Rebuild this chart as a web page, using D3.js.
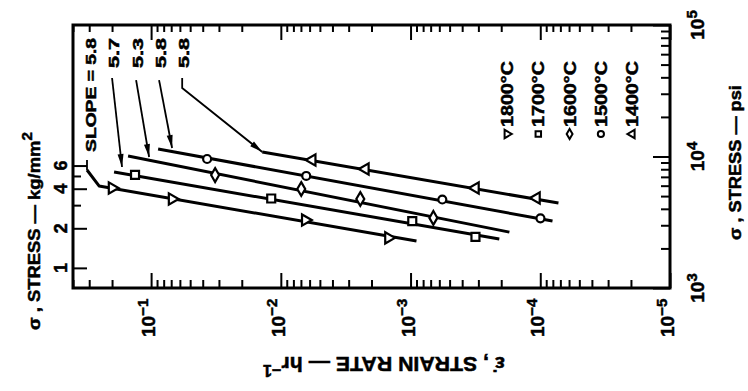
<!DOCTYPE html>
<html>
<head>
<meta charset="utf-8">
<script src="https://cdn.jsdelivr.net/npm/d3@7"></script>
<style>
  body { margin: 0; background: #fff; }
  svg { display: block; }
  text { font-family: "Liberation Sans", Arial, sans-serif; font-weight: bold; fill: #000;
         stroke: #000; stroke-width: 0.5px; }
</style>
</head>
<body>
<script>
// Creep data: steady-state strain rate (hr^-1) against stress (kg/mm^2)
const temperatures = ["1800°C", "1700°C", "1600°C", "1500°C", "1400°C"];
const symbolKinds  = ["triRight", "square", "diamond", "circle", "triLeft"];
const slopeLabels  = ["SLOPE = 5.8", "5.7", "5.3", "5.8", "5.8"];

// fitted lines [strain rate, stress]
const line1800 = [[0.312, 5.55], [0.252, 4.20], [9.0e-4, 1.60]];
const line1700 = [[0.193, 5.36], [2.07e-4, 1.66]];
const line1600 = [[0.1505, 7.09], [1.73e-4, 1.87]];
const line1500 = [[0.0883, 8.02], [8.05e-5, 2.27]];
const line1400 = [[0.0139, 7.61], [7.24e-5, 3.11]];

// measured points [strain rate, stress]
const pts1800 = [[0.200, 4.05], [0.0689, 3.34], [0.00648, 2.31], [0.00148, 1.69]];
const pts1700 = [[0.133, 5.10], [0.01186, 3.37], [9.7e-4, 2.27], [3.16e-4, 1.72]];
const pts1600 = [[0.0321, 5.08], [0.00696, 3.98], [0.00244, 3.34], [6.67e-4, 2.40]];
const pts1500 = [[0.0370, 6.73], [0.00637, 5.00], [5.69e-4, 3.31], [9.97e-5, 2.38]];
const pts1400 = [[0.00573, 6.61], [0.00223, 5.65], [3.16e-4, 4.05], [1.07e-4, 3.40]];

// leaders from the slope labels down to their lines [strain rate, stress]
const lead1800 = [[0.312, 6.61], [0.312, 5.55]];
const lead1700 = [[0.200, 27.8], [0.1676, 5.85]];
const lead1600 = [[0.1305, 26.8], [0.1036, 6.97]];
const lead1500 = [[0.0868, 26.8], [0.0689, 8.16]];
const lead1400 = [[0.0576, 27.8], [0.0576, 23.3], [0.0139, 7.61]];

// axis labels
const rateDecades = [-1, -2, -3, -4, -5];
const psiDecades  = [3, 4, 5];
const kgTicks     = [1, 2, 3, 4, 5, 6];
const kgLabels    = [1, 2, 4, 6];

const KG_TO_PSI = 1422.3;

const series = temperatures.map((t, i) => ({
  name: t,
  kind: symbolKinds[i],
  slope: slopeLabels[i],
  line: [line1800, line1700, line1600, line1500, line1400][i],
  pts:  [pts1800, pts1700, pts1600, pts1500, pts1400][i],
  lead: [lead1800, lead1700, lead1600, lead1500, lead1400][i],
  arrow: i > 0
}));

const W = 748, H = 391;
const frame = { left: 73, right: 670, top: 25, bottom: 288 };

const svg = d3.select("body").append("svg").attr("width", W).attr("height", H);

const x = d3.scaleLog().domain([0.4, 1e-5]).range([frame.left, frame.right]);
const yPsi = d3.scaleLog().domain([1e3, 1e5]).range([frame.bottom, frame.top]);
const y = d3.scaleLog().domain([1e3 / KG_TO_PSI, 1e5 / KG_TO_PSI]).range([frame.bottom, frame.top]);

// ---------- ticks ----------
function logTicks(lo, hi, loExp, hiExp) {
  const major = [], minor = [];
  for (let e = loExp; e <= hiExp; e++) {
    for (let k = 1; k <= 9; k++) {
      const v = k * Math.pow(10, e);
      if (v < lo * 0.999 || v > hi * 1.001) continue;
      (k === 1 ? major : minor).push(v);
    }
  }
  return { major, minor };
}
const rateT = logTicks(1e-5, 0.4, -5, -1);
const psiT = logTicks(1e3, 1e5, 3, 5);

function tickAxis(axisFn, scale, values, size, tx, ty) {
  const g = svg.append("g").attr("transform", `translate(${tx},${ty})`)
    .call(axisFn(scale).tickValues(values).tickSize(size).tickFormat(""));
  g.select(".domain").remove();
  g.selectAll(".tick line").attr("stroke", "#000").attr("stroke-width", 2);
  return g;
}
// bottom & top (inward)
tickAxis(d3.axisBottom, x, rateT.major, -15, 0, frame.bottom);
tickAxis(d3.axisBottom, x, rateT.minor, -8, 0, frame.bottom);
tickAxis(d3.axisTop, x, rateT.major, -15, 0, frame.top);
tickAxis(d3.axisTop, x, rateT.minor, -7, 0, frame.top);
// right (psi)
tickAxis(d3.axisRight, yPsi, psiT.major, -17, frame.right, 0);
tickAxis(d3.axisRight, yPsi, psiT.minor, -9, frame.right, 0);
// left (kg/mm^2)
tickAxis(d3.axisLeft, y, kgTicks.filter(v => kgLabels.includes(v)), -14, frame.left, 0);
tickAxis(d3.axisLeft, y, kgTicks.filter(v => !kgLabels.includes(v)), -8, frame.left, 0);

// frame
svg.append("rect")
  .attr("x", frame.left).attr("y", frame.top)
  .attr("width", frame.right - frame.left).attr("height", frame.bottom - frame.top)
  .attr("fill", "none").attr("stroke", "#000").attr("stroke-width", 3);

// ---------- text helpers ----------
// rotated text group; the text is stretched along its own direction to a given length
function rotText(px, py, angle, anchor, size, target) {
  const g = svg.append("g").attr("transform", `translate(${px},${py}) rotate(${angle})`);
  const t = g.append("text").attr("text-anchor", anchor).attr("font-size", size);
  t.fit = () => {
    if (target) {
      const len = t.node().getComputedTextLength();
      if (len > 0) t.attr("transform", `scale(${target / len},1)`);
    }
    return t;
  };
  return t;
}
function power(t, base, exp, supSize) {
  t.append("tspan").text(base);
  t.append("tspan").attr("dy", "-0.5em").attr("font-size", supSize).text(exp);
}

// bottom decade labels
rateDecades.forEach(e => {
  const t = rotText(x(Math.pow(10, e)) + 4, 337, -90, "start", 19);
  power(t, "10", "\u2212" + Math.abs(e), 15);
});
// right decade labels
psiDecades.forEach(e => {
  const t = rotText(704, yPsi(Math.pow(10, e)), -90, "middle", 19);
  power(t, "10", String(e), 15);
});
// left labels
kgLabels.forEach(v => {
  rotText(67, y(v), -90, "middle", 18).text(v);
});

// axis titles
{
  const t = rotText(40, 330, -90, "start", 17, 198);
  t.append("tspan").text("\u03C3 , STRESS \u2014 kg/mm");
  t.append("tspan").attr("dy", "-0.55em").attr("font-size", 14).text("2");
  t.fit();
}
{
  const t = rotText(741, 240, -90, "start", 17, 155);
  t.text("\u03C3 , STRESS \u2014 psi");
  t.fit();
}
{
  const t = rotText(505, 357, 180, "start", 21, 242);
  t.append("tspan").text("\u03B5\u0307 , STRAIN RATE \u2014 hr");
  t.append("tspan").attr("dy", "-0.5em").attr("font-size", 16).text("\u22121");
  t.fit();
}

// ---------- markers ----------
function symbolPath(kind, size) {
  const map = {
    triRight: d3.symbolTriangle, triLeft: d3.symbolTriangle,
    square: d3.symbolSquare, diamond: d3.symbolDiamond, circle: d3.symbolCircle
  };
  return d3.symbol().type(map[kind]).size(size)();
}
function symbolRotation(kind) {
  return kind === "triRight" ? 90 : kind === "triLeft" ? -90 : 0;
}
const markerSize = { triRight: 55, triLeft: 55, square: 64, diamond: 55, circle: 50 };

// ---------- lines ----------
const lineGen = d3.line().x(d => x(d[0])).y(d => y(d[1]));

series.forEach(s => {
  svg.append("path").attr("d", lineGen(s.line))
    .attr("fill", "none").attr("stroke", "#000").attr("stroke-width", 3)
    .attr("stroke-linejoin", "round");
});

series.forEach(s => {
  svg.append("g").selectAll("path").data(s.pts).join("path")
    .attr("d", symbolPath(s.kind, markerSize[s.kind]))
    .attr("transform", d => `translate(${x(d[0])},${y(d[1])}) rotate(${symbolRotation(s.kind)})`)
    .attr("fill", "#fff").attr("stroke", "#000").attr("stroke-width", 2.2);
});

// ---------- slope labels and leaders ----------
const labelTop = 38;
series.forEach(s => {
  svg.append("path").attr("d", lineGen(s.lead))
    .attr("fill", "none").attr("stroke", "#000").attr("stroke-width", 1.8);
  if (s.arrow) {
    const n = s.lead.length;
    const p0 = [x(s.lead[n - 2][0]), y(s.lead[n - 2][1])];
    const p1 = [x(s.lead[n - 1][0]), y(s.lead[n - 1][1])];
    const dx = p1[0] - p0[0], dy = p1[1] - p0[1];
    const L = Math.hypot(dx, dy), ux = dx / L, uy = dy / L;
    const len = 13, hw = 3;
    const bx = p1[0] - ux * len, by = p1[1] - uy * len;
    svg.append("path")
      .attr("d", `M${p1[0]},${p1[1]}L${bx - uy * hw},${by + ux * hw}L${bx + uy * hw},${by - ux * hw}Z`)
      .attr("fill", "#000");
  }
  const lx = x(s.lead[0][0]) + (s.arrow ? 2 : 4) + 5;
  const t = rotText(lx, labelTop, -90, "end", 14, s.slope.length > 4 ? 114 : 30);
  t.text(s.slope);
  t.fit();
});

// ---------- legend ----------
series.forEach((s, i) => {
  const cx = 507 + i * 31.3;
  svg.append("path")
    .attr("d", symbolPath(s.kind, 30))
    .attr("transform", `translate(${cx},134) rotate(${symbolRotation(s.kind)})`)
    .attr("fill", "#fff").attr("stroke", "#000").attr("stroke-width", 2);
  const t = rotText(cx + 6, 127, -90, "start", 16, 66);
  t.text(s.name);
  t.fit();
});
</script>
</body>
</html>
